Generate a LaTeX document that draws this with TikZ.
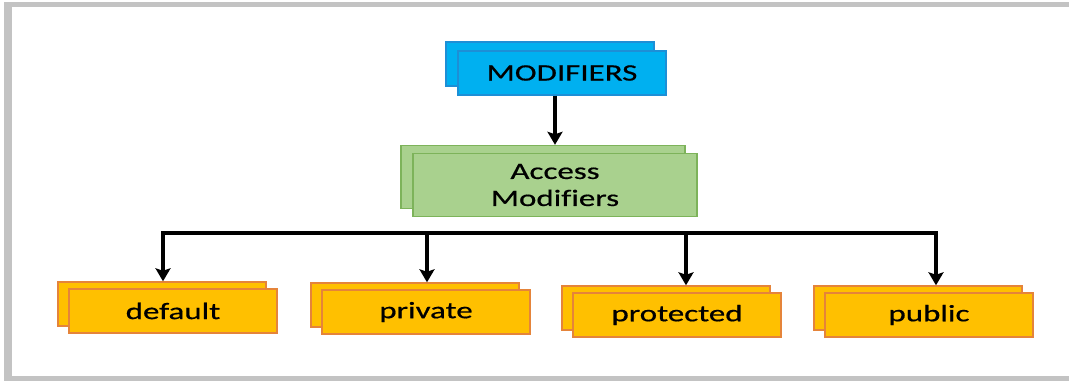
\documentclass[tikz,border=0pt]{standalone}
\usepackage{fontspec}
\setmainfont{Carlito}[FakeStretch=1.4, FakeBold=0.6, Ligatures=NoCommon]
\usepackage{xcolor}
\usetikzlibrary{positioning}
\usetikzlibrary{shadows}
\usetikzlibrary{arrows.meta}

\definecolor{framegray}{HTML}{C3C3C3}
\definecolor{modfill}{HTML}{00B0F0}
\definecolor{modline}{HTML}{1D8FD6}
\definecolor{accfill}{HTML}{A9D18E}
\definecolor{accline}{HTML}{7DB35A}
\definecolor{keyfill}{HTML}{FFC000}
\definecolor{keyline}{HTML}{E5843A}

\begin{document}
\begin{tikzpicture}
    [%%%%%%%%%%%%%%%%%%%%%%%%%%%%%%
        x=0.02cm, y=-0.02cm,
        box/.style={rectangle, line width=0.8pt, minimum width=4.16cm, minimum height=0.88cm,
            inner sep=0pt, align=center, text=black, font=\fontsize{13.4}{15.4}\selectfont},
        modbox/.style={box, fill=modfill, draw=modline,
            copy shadow={shadow xshift=-0.24cm, shadow yshift=0.18cm, fill=modfill, draw=modline}},
        accbox/.style={box, fill=accfill, draw=accline, minimum width=5.68cm, minimum height=1.26cm,
            copy shadow={shadow xshift=-0.24cm, shadow yshift=0.16cm, fill=accfill, draw=accline}},
        keybox/.style={box, fill=keyfill, draw=keyline,
            copy shadow={shadow xshift=-0.22cm, shadow yshift=0.14cm, fill=keyfill, draw=keyline}},
        conn/.style={line width=2.3pt, -{Stealth[width=0.3cm,length=0.26cm,inset=0.05cm]}}
    ]%%%%%%%%%%%%%%%%%%%%%%%%%%%%%%

\useasboundingbox (0,0) rectangle (1069,381);

% frame
\fill[framegray] (4,2) rectangle (1069,381);
\fill[white] (12,7) rectangle (1069,376);

\node[modbox] (mod) at (562,73) {MODIFIERS};
\node[accbox] (acc) at (555,185) {Access\\Modifiers};

\node[keybox] (default) at (173,311) {default};
\node[keybox] (private) at (426,312) {private};
\node[keybox] (protected) at (677,315) {protected};
\node[keybox] (public) at (929,315) {public};

\draw[conn] (mod.south -| acc.north) -- ([yshift=0.16cm]acc.north);

% drop points
\coordinate (bus) at (555,233);
\coordinate (tipdefault) at ([xshift=-0.2cm, yshift=0.14cm]default.north);
\coordinate (tipprivate) at ([xshift=0.02cm, yshift=0.14cm]private.north);
\coordinate (tipprotected) at ([xshift=0.18cm, yshift=0.14cm]protected.north);
\coordinate (tippublic) at ([xshift=0.14cm, yshift=0.14cm]public.north);

\draw[line width=2.3pt, line cap=rect] (tipdefault |- bus) -- (tippublic |- bus);
\foreach \key in {default, private, protected, public}
    \draw[conn] (tip\key |- bus) -- (tip\key);

\end{tikzpicture}
\end{document}
